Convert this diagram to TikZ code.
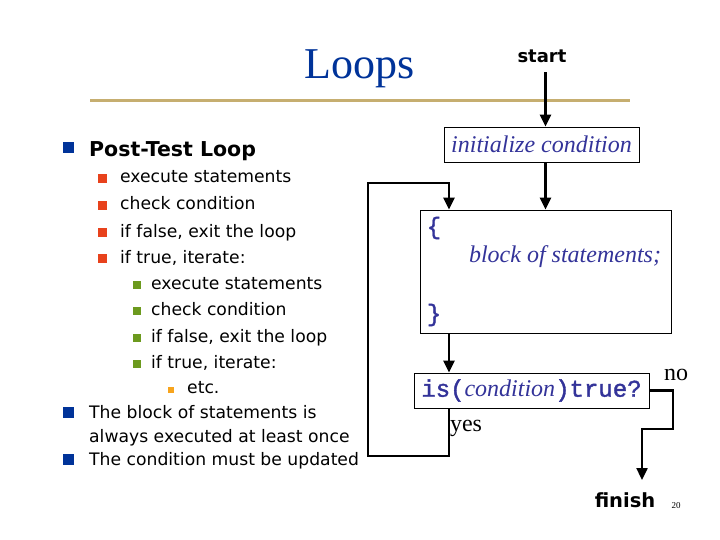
\documentclass[tikz,border=0pt]{standalone}
\usepackage{fontspec}
\setmainfont{Liberation Serif}
\setsansfont{DejaVu Sans}
\setmonofont{Liberation Mono}
\newfontfamily\condmono[FakeBold=1.6]{Liberation Mono}
\usetikzlibrary{arrows.meta}
\definecolor{titleblue}{RGB}{0,51,153}
\definecolor{flowblue}{RGB}{51,51,153}
\definecolor{goldline}{RGB}{198,174,112}
\definecolor{bulred}{RGB}{232,66,28}
\definecolor{bulgreen}{RGB}{108,154,30}
\definecolor{bulorange}{RGB}{247,164,29}
\newcommand{\fsz}[1]{\fontsize{#1}{#1}\selectfont}
\begin{document}
\begin{tikzpicture}[x=1pt,y=-1pt,>={Triangle[width=11pt,length=12pt]},
	line/.style={line width=2.4pt},
	box/.style={draw,line width=0.8pt,inner sep=0pt},
	item/.style={anchor=base west,inner sep=0pt,font=\sffamily\fsz{17.2}},
	flow/.style={text=flowblue,inner sep=0pt}]
			\useasboundingbox (0,0) rectangle (720,540);
			\node[anchor=base,inner sep=0pt,text=titleblue,font=\fsz{44}] (T) at (359.5,79) {Loops};
			\fill[goldline] (90,99) rectangle (630,102);
			% <<< left list
			\fill[titleblue] (63,142) rectangle +(11,11);
			\node[item,font=\sffamily\bfseries\fsz{20.5}] (H) at (89,157) {Post-Test Loop};
			\foreach \y/\t in {183/execute statements,210/check condition,237/{if false, exit the loop},263/{if true, iterate:}}{
				\fill[bulred] (98,\y-9) rectangle +(9,9);
				\node[item] (r\y) at (120,\y) {\t};
			}
			\foreach \y/\t in {289/execute statements,315/check condition,342/{if false, exit the loop},368/{if true, iterate:}}{
				\fill[bulgreen] (133,\y-8) rectangle +(8,8);
				\node[item] (g\y) at (151,\y) {\t};
			}
			\fill[bulorange] (168,387) rectangle +(6,6);
			\node[item] (etc) at (187,393) {etc.};
			\foreach \y/\t in {418/The block of statements is,465/The condition must be updated}{
				\fill[titleblue] (63,\y-11) rectangle +(11,11);
				\node[item] (m\y) at (89,\y) {\t};
			}
			\node[item] (m442) at (89,442) {always executed at least once};
			% <<< flow chart
			\node[anchor=base,inner sep=0pt,font=\sffamily\bfseries\fsz{18}] (S) at (542,63) {start};
			\node[box,flow,minimum width=195,minimum height=35,font=\itshape\fsz{24}] (I) at (541.5,144.5) {initialize condition};
			\node[box,minimum width=251,minimum height=123] (B) at (545.5,271.5) {};
			\node[flow,font=\condmono\fsz{24}] (L) at (434,228) {\{};
			\node[flow,font=\itshape\fsz{24}] (BS) at (565,257) {block of statements;};
			\node[flow,font=\condmono\fsz{24}] (R) at (434,315) {\}};
			\node[box,flow,minimum width=235,minimum height=35,font=\fsz{24}] (C) at (531.5,390.5)
				{{\condmono is(}\textit{condition}{\condmono )true?}};
			\node[font=\fsz{24}] (no) at (676,375) {no};
			\node[font=\fsz{24}] (yes) at (466,428) {yes};
			\node[anchor=base,inner sep=0pt,font=\sffamily\bfseries\fsz{19.5}] (F) at (625,507) {finish};
			\node[font=\fsz{9}] (pg) at (676,506) {20};
			\coordinate (P) at (449,183);
			\coordinate (Q) at (368,456);
			\coordinate (K) at (673,429);
			\coordinate (Z) at (642,480);
			\draw[line,->] (S.south -| B.north) ++(0,9) -- (I.north -| B.north);
			\draw[line,->] (I.south -| B.north) -- (B.north);
			\draw[line,->] (B.south -| P) -- (C.north -| P);
			\draw[line,->] (C.south -| P) |- (Q) |- (P) -- (B.north -| P);
			\draw[line,->] (C.east) -| (K) -| (Z);
		\end{tikzpicture}
\end{document}
